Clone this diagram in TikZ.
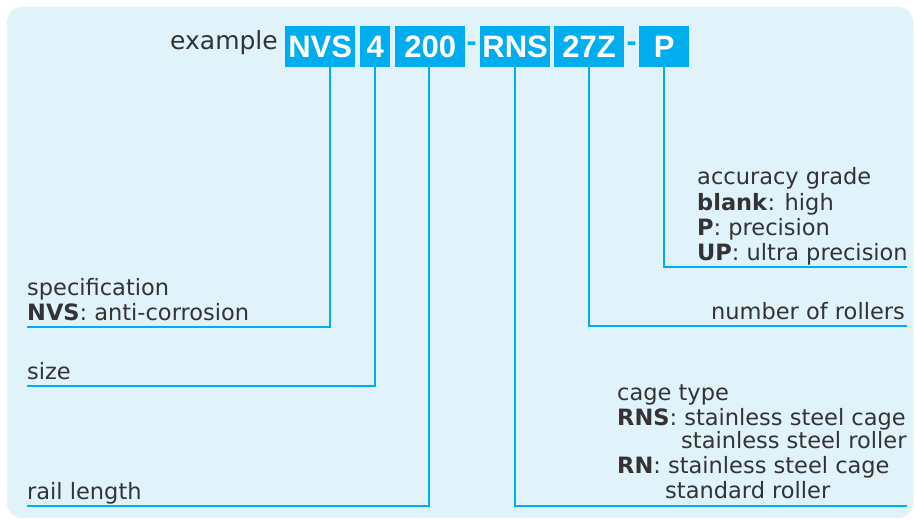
\documentclass[tikz,border=0pt]{standalone}
\usepackage{fontspec}
\setmainfont{Liberation Sans}
\newfontfamily\lblfont{DejaVu Sans}
\definecolor{bg}{HTML}{E0F2FA}
\definecolor{cy}{HTML}{00AEEF}
\definecolor{tx}{HTML}{333333}
\begin{document}
\begin{tikzpicture}[x=1pt,y=-1pt,
  codebox/.style={fill=cy,text=white,font=\bfseries\fontsize{31}{31}\selectfont,inner sep=0pt,minimum height=41pt,anchor=north west},
  dashtxt/.style={text=cy,font=\bfseries\fontsize{30}{30}\selectfont,inner sep=0pt},
  lbl/.style={text=tx,font=\lblfont\fontsize{22.5}{25}\selectfont,inner sep=0pt,anchor=base west},
  lblr/.style={lbl,anchor=base east},
  lead/.style={draw=cy,line width=2pt}]
\useasboundingbox (0,0) rectangle (915,519);
\fill[bg,rounded corners=15pt] (7,7) rectangle (913,518);
% code boxes
\node[lbl,anchor=base east,font=\lblfont\fontsize{25}{25}\selectfont] (ex) at (278,50) {example};
\node[codebox,minimum width=70pt] (nvs) at (285,26) {NVS};
\node[codebox,minimum width=30pt] (four) at (360,26) {4};
\node[codebox,minimum width=70pt] (twoh) at (395,26) {200};
\node[dashtxt] (d1) at (471.5,47) {-};
\node[codebox,minimum width=70pt] (rns) at (480,26) {RNS};
\node[codebox,minimum width=70pt] (tsz) at (554,26) {27Z};
\node[dashtxt] (d2) at (631.5,47) {-};
\node[codebox,minimum width=50pt] (p) at (639,26) {P};
% leader ends
\coordinate (e1) at (27,327);
\coordinate (e2) at (27,386);
\coordinate (e3) at (27,506);
\coordinate (e4) at (907,506);
\coordinate (e5) at (907,326);
\coordinate (e6) at (907,267);
\draw[lead] ([xshift=10pt]nvs.south) |- (e1);
\draw[lead] (four.south) |- (e2);
\draw[lead] ([xshift=-1pt]twoh.south) |- (e3);
\draw[lead] (rns.south) |- (e4);
\draw[lead] (tsz.south) |- (e5);
\draw[lead] (p.south) |- (e6);
% labels
\node[lbl] (spec) at (27,295) {specification};
\node[lbl] (spec2) at (27,320) {\textbf{NVS}: anti-corrosion};
\node[lbl] (size) at (27,379) {size};
\node[lbl] (rail) at (27,499) {rail length};
\node[lbl] (acc1) at (697,184) {accuracy grade};
\node[lbl] (acc2) at (697,210) {\textbf{blank}: high};
\node[lbl] (acc3) at (697,235) {\textbf{P}: precision};
\node[lbl] (acc4) at (697,260) {\textbf{UP}: ultra precision};
\node[lblr] (num) at (905,319) {number of rollers};
\node[lbl] (cage1) at (617,400) {cage type};
\node[lbl] (cage2) at (617,425) {\textbf{RNS}: stainless steel cage};
\node[lbl] (cage3) at (681,448) {stainless steel roller};
\node[lbl] (cage4) at (617,473) {\textbf{RN}: stainless steel cage};
\node[lbl] (cage5) at (665,498) {standard roller};
\end{tikzpicture}
\end{document}
